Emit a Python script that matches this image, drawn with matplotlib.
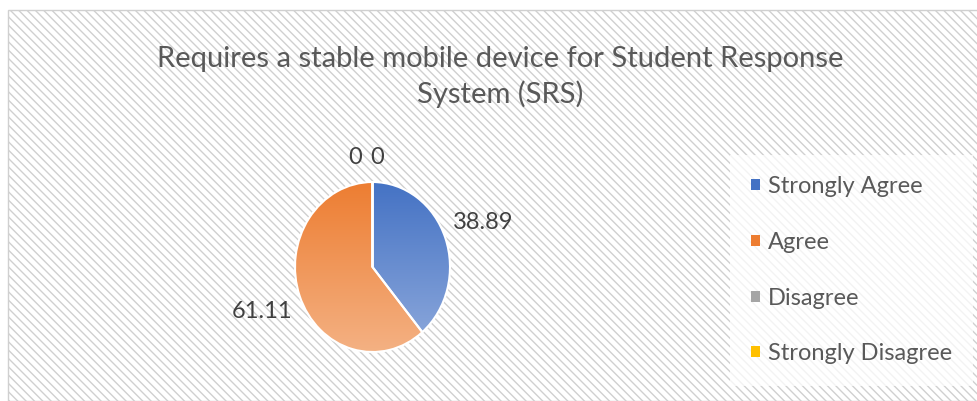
import numpy as np
import matplotlib
matplotlib.use("Agg")
import matplotlib.pyplot as plt
from matplotlib.patches import Rectangle, Patch
from matplotlib.colors import LinearSegmentedColormap

# data
categories = ["Strongly Agree", "Agree", "Disagree", "Strongly Disagree"]
values = [38.89, 61.11, 0, 0]
value_labels = ["38.89", "61.11", "0", "0"]
title = "Requires a stable mobile device for Student Response\nSystem (SRS)"

colors = ["#4472C4", "#ED7D31", "#A5A5A5", "#FFC000"]
light_colors = ["#8FAADC", "#F4B183", "#C9C9C9", "#FFD966"]

W, H = 977, 401
plt.rcParams["font.family"] = ["Lato", "DejaVu Sans"]
plt.rcParams["hatch.linewidth"] = 1.0
plt.rcParams["hatch.color"] = "#dedede"

fig = plt.figure(figsize=(W / 100, H / 100), dpi=100)
fig.patch.set_facecolor("white")

# hatched chart area with thin border (behind everything)
bg = Rectangle((8 / W, 0), 1, 1 - 10 / H, transform=fig.transFigure,
               facecolor="white", edgecolor="#d0d0d0", hatch=r"\\\\", linewidth=1,
               zorder=-5)
fig.patches.append(bg)

fig.text(500 / W, 1 - 77 / H, title, ha="center", va="center",
         fontsize=21, color="#595959", linespacing=1.4)

# pie axes (slightly taller than wide, like the source)
cx, cy = 372.5, 267
rx, ry = 77.5, 85
ax = fig.add_axes([(cx - 1.5 * rx) / W, (H - cy - 1.5 * ry) / H, 3 * rx / W, 3 * ry / H])
ax.set_zorder(1)
wedges, texts = ax.pie(values, labels=value_labels, startangle=90, counterclock=False,
                       colors=colors, labeldistance=1.52,
                       wedgeprops=dict(edgecolor="white", linewidth=1.5),
                       textprops=dict(fontsize=17, color="#404040"))
ax.set_aspect("auto")

# vertical gradient fill clipped to each wedge
grad = np.linspace(0, 1, 256).reshape(-1, 1)
for w, c0, c1 in zip(wedges, colors, light_colors):
    cmap = LinearSegmentedColormap.from_list("g", [c0, c1])
    im = ax.imshow(grad, cmap=cmap, extent=(-1, 1, -1, 1), origin="upper",
                   aspect="auto", zorder=w.get_zorder() + 0.1)
    im.set_clip_path(w)
    w.set_zorder(w.get_zorder() + 0.2)
    w.set_facecolor("none")
ax.set_xlim(-1.5, 1.5)
ax.set_ylim(-1.5, 1.5)
ax.axis("off")

for t in texts:
    t.set_ha("center")
    t.set_va("center")
# the two zero labels overlap at the top; nudge them apart
texts[2].set_x(-0.22)
texts[3].set_x(0.06)
texts[2].set_y(1.29)
texts[3].set_y(1.29)

handles = [Patch(facecolor=c, edgecolor="none") for c in colors]
leg = fig.legend(handles, categories, loc="upper left",
                 bbox_to_anchor=(730 / W, 1 - 155 / H),
                 frameon=True, fancybox=False, framealpha=0.75, facecolor="white",
                 edgecolor="none", fontsize=17, handlelength=0.35, handleheight=0.35,
                 handletextpad=0.35, labelspacing=1.47, borderpad=0.9, borderaxespad=0)
for t in leg.get_texts():
    t.set_color("#595959")

fig.savefig("out.png", dpi=100)
